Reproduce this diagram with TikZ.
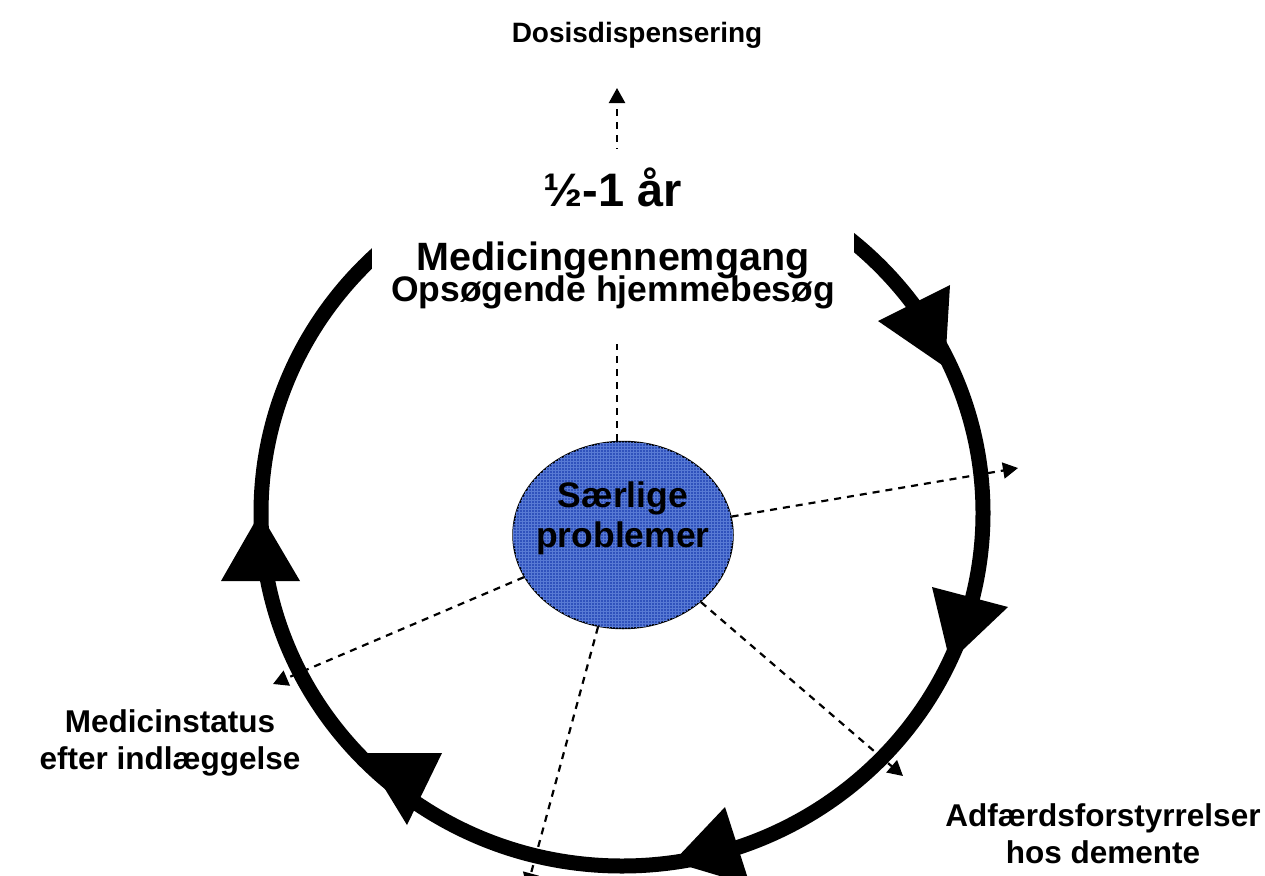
\documentclass[tikz,border=0pt]{standalone}
\usepackage{fontspec}
\setmainfont{Liberation Sans}
\usetikzlibrary{shapes.geometric,arrows.meta,patterns}
\definecolor{ellblue}{RGB}{48,82,188}
\definecolor{ellgrid}{RGB}{88,122,212}
\begin{document}
\begin{tikzpicture}[x=1pt,y=-1pt,
  ring/.style={line width=15pt, draw=black},
  headfill/.style={fill=black},
  dasharrow/.style={line width=2.2pt, dash pattern=on 7pt off 6pt, -{Triangle[length=15pt,width=16pt]}},
  lbl/.style={font=\bfseries\fontsize{28}{34}\selectfont, align=center, inner sep=0pt},
  lblbig/.style={font=\bfseries\fontsize{31.5}{37}\selectfont, align=center, inner sep=0pt},
  centre/.style={ellipse, draw=black, line width=1.5pt, fill=ellblue,
     postaction={pattern=grid, pattern color=ellgrid},
     minimum width=220pt, minimum height=187pt, inner sep=0pt,
     font=\bfseries\fontsize{35.5}{40}\selectfont},
  topbox/.style={fill=white, inner sep=0pt, minimum width=482pt, minimum height=195pt}
  ]
\useasboundingbox (0,0) rectangle (1265,875);
\clip (0,0) rectangle (1265,875);

\coordinate (t1) at (617,88);
\coordinate (t2) at (1018,468);
\coordinate (t3) at (273,684);
\coordinate (t4) at (527,888);
\coordinate (t5) at (903,776);

% ring
\draw[ring] (622,513) ellipse [x radius=361pt, y radius=353pt];

% arrowheads on the ring
\fill[headfill] (878,321) -- (950,285) -- (945,367) -- cycle;
\fill[headfill] (932,587) -- (1008,607) -- (950,662) -- cycle;
\fill[headfill] (725,807) -- (750,885) -- (673,862) -- cycle;
\fill[headfill] (363,753) -- (442,753) -- (407,825) -- cycle;
\fill[headfill] (221,581) -- (300,581) -- (260,513) -- cycle;

% centre
\node[centre] (ell) at (623,535) {\makebox[0pt]{\raisebox{28pt}[0pt][0pt]{\begin{tabular}[t]{@{}c@{}}Særlige\\problemer\end{tabular}}}};

% dashed arrows
\draw[dasharrow] (t1 |- ell.north) -- (t1);
\draw[dasharrow] (ell) -- (t2);
\draw[dasharrow] (ell) -- (t3);
\draw[dasharrow] (ell) -- (t4);
\draw[dasharrow] (ell) -- (t5);

% top text box (masks the ring and the dashed line)
\node[topbox] (top) at (613,246) {\vbox{\hsize=482pt\lineskiplimit=-100pt\parskip=0pt\parindent=0pt\bfseries
{\fontsize{47}{47}\selectfont\spaceskip=0pt\xspaceskip=0pt\centerline{½-1 år}}
{\fontsize{39.5}{64}\selectfont\spaceskip=0pt\xspaceskip=0pt\centerline{Medicingennemgang}}
{\fontsize{35.5}{31}\selectfont\spaceskip=0pt\xspaceskip=0pt\centerline{Opsøgende hjemmebesøg\rule[-22pt]{0pt}{22pt}}}}};

% labels
\node[lbl] (dosis) at (637,35) {Dosisdispensering};
\node[lblbig] (medstat) at (170,743) {Medicinstatus\\efter indlæggelse};
\node[lblbig] (adf) at (1103,834) {Adfærdsforstyrrelser\\hos demente};
\end{tikzpicture}
\end{document}
